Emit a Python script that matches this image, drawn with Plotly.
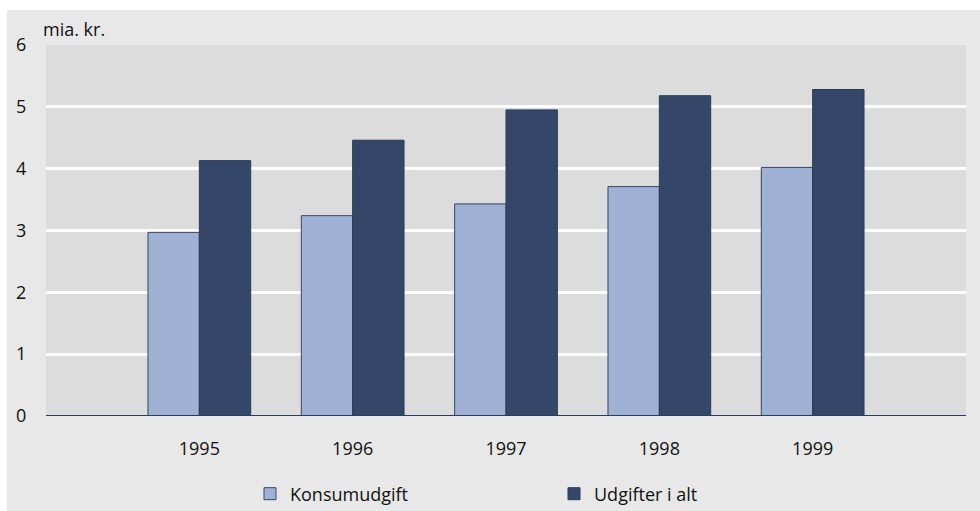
import plotly.graph_objects as go

years = [1995, 1996, 1997, 1998, 1999]
konsum = [2.97, 3.24, 3.43, 3.71, 4.02]
udgifter_i_alt = [4.13, 4.46, 4.95, 5.18, 5.28]
series_names = ["Konsumudgift", "Udgifter i alt"]
y_ticks = [0, 1, 2, 3, 4, 5, 6]

FONT = "Open Sans, Roboto, sans-serif"
L, R, T, B = 46, 14, 45, 95
W, H = 980, 511
pw, ph = W - L - R, H - T - B

fig = go.Figure()
fig.add_trace(go.Bar(x=years, y=konsum, name=series_names[0],
                     marker=dict(color="#9fb1d5", line=dict(color="#34466a", width=1))))
fig.add_trace(go.Bar(x=years, y=udgifter_i_alt, name=series_names[1],
                     marker=dict(color="#344769", line=dict(color="#2a3a58", width=1))))

shapes = [
    # white strips outside gray panel (top and left)
    dict(type="rect", xref="paper", yref="paper", x0=-L / pw - 0.01, x1=1 + R / pw + 0.01,
         y0=1 + (T - 10) / ph, y1=1 + T / ph + 0.01, fillcolor="white", line_width=0, layer="above"),
    dict(type="rect", xref="paper", yref="paper", x0=-L / pw - 0.01, x1=-(L - 7) / pw,
         y0=-B / ph - 0.01, y1=1 + T / ph + 0.01, fillcolor="white", line_width=0, layer="above"),
]

fig.update_layout(
    width=W, height=H,
    margin=dict(l=L, r=R, t=T, b=B, autoexpand=False),
    paper_bgcolor="#e8e8e8",
    plot_bgcolor="#dcdcdc",
    font=dict(family=FONT, size=18, color="#111111"),
    barmode="group",
    bargap=0.33,
    bargroupgap=0,
    shapes=shapes,
    showlegend=True,
    legend=dict(orientation="h", x=(250 - L) / pw, xanchor="left",
                y=-(494 - 416) / ph, yanchor="middle",
                bgcolor="rgba(0,0,0,0)", entrywidth=259, entrywidthmode="pixels",
                font=dict(size=18), itemwidth=30),
    annotations=[dict(text="mia. kr.", xref="paper", yref="paper", x=-5 / pw, y=1 + 2 / ph,
                      xanchor="left", yanchor="bottom", showarrow=False, font=dict(size=18))],
)
fig.update_xaxes(range=[1994, 2000], tickvals=years, ticktext=[str(y) for y in years],
                 showgrid=False, zeroline=False, showline=False, ticks="", fixedrange=True,
                 ticklabelstandoff=20)
fig.update_yaxes(range=[0, 6], tickvals=y_ticks, showgrid=True, gridcolor="white", gridwidth=3,
                 zeroline=False, showline=False, ticks="outside", ticklen=15,
                 tickcolor="rgba(0,0,0,0)", fixedrange=True)
# baseline at zero
fig.add_shape(type="line", xref="paper", yref="y", x0=0, x1=1, y0=0, y1=0,
              line=dict(color="#2b3c5e", width=2), layer="above")

fig.write_html("out.html", config={"displayModeBar": False},
               post_script="document.body.style.margin='0';document.body.style.overflow='hidden';")
